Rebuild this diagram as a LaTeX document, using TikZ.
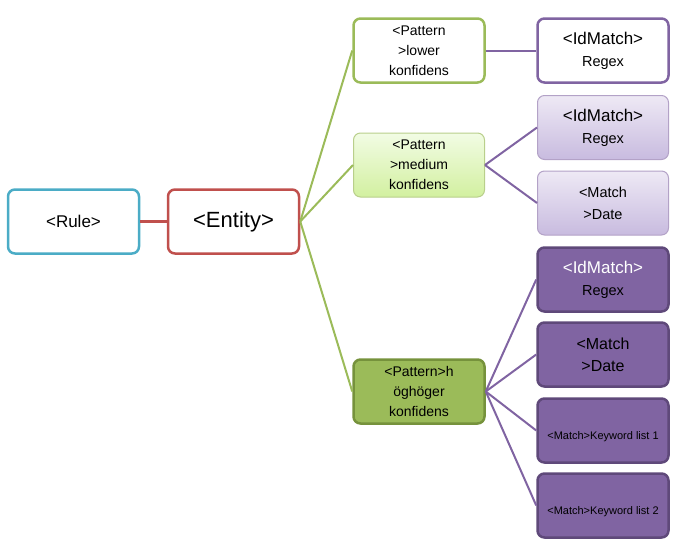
\documentclass[tikz,border=0pt]{standalone}
\usepackage{fontspec}
\setmainfont{Liberation Sans}
\definecolor{rulecol}{HTML}{4BACC6}
\definecolor{entcol}{HTML}{C0504D}
\definecolor{patcol}{HTML}{9BBB59}
\definecolor{patdark}{HTML}{76923C}
\definecolor{pattop}{HTML}{F2FCE4}
\definecolor{patbot}{HTML}{D2F0A0}
\definecolor{matchcol}{HTML}{8064A2}
\definecolor{matchdark}{HTML}{5F497A}
\definecolor{matchtop}{HTML}{EEE9F5}
\definecolor{matchbot}{HTML}{C8BBDF}
\tikzset{
  box/.style={rectangle, rounded corners=7pt, minimum width=131pt, minimum height=64pt,
    line width=2.5pt, align=center, inner sep=2pt},
  patline/.style={draw=patcol, line width=2pt},
  matchline/.style={draw=matchcol, line width=2pt},
  lightpat/.style={box, draw=patcol!70, line width=1pt, top color=pattop, bottom color=patbot},
  lightmatch/.style={box, draw=matchcol!60, line width=1pt, top color=matchtop, bottom color=matchbot},
  darkmatch/.style={box, draw=matchdark, fill=matchcol}
}
\begin{document}
\begin{tikzpicture}[x=1pt, y=-1pt]
  \useasboundingbox (0,0) rectangle (673,555);

  \node[box, draw=rulecol, fill=white, font=\fontsize{17}{20}\selectfont] (rule) at (73.5,221.5) {<Rule>};
  \node[box, draw=entcol, fill=white, font=\fontsize{22}{25}\selectfont] (entity) at (233.5,221.5) {<Entity>};

  \node[box, draw=patcol, fill=white, font=\fontsize{14}{20}\selectfont] (patlow) at (419,50.5) {<Pattern\\>lower\\konfidens};
  \node[lightpat, font=\fontsize{14}{20}\selectfont] (patmed) at (419,165) {<Pattern\\>medium\\konfidens};
  \node[box, draw=patdark, fill=patcol, font=\fontsize{14}{20}\selectfont] (pathigh) at (419,391.5) {<Pattern>h\\öghöger\\konfidens};

  \node[box, draw=matchcol, fill=white, font=\fontsize{14.5}{22}\selectfont] (idlow) at (603,50.5) {{\fontsize{17}{19}\selectfont <IdMatch>}\\Regex};
  \node[lightmatch, font=\fontsize{14.5}{22}\selectfont] (idmed) at (603,127.5) {{\fontsize{17}{19}\selectfont <IdMatch>}\\Regex};
  \node[lightmatch, font=\fontsize{14.5}{22}\selectfont] (datemed) at (603,203) {<Match\\>Date};
  \node[darkmatch, font=\fontsize{14.5}{22}\selectfont] (idhigh) at (603,279.5) {{\fontsize{17}{19}\selectfont\color{white} <IdMatch>}\\Regex};
  \node[darkmatch, font=\fontsize{16}{22}\selectfont] (datehigh) at (603,354.5) {<Match\\>Date};
  \node[darkmatch, font=\fontsize{11}{13}\selectfont] (kw1) at (603,430.5) {\mbox{}\\[8pt]<Match>Keyword list 1};
  \node[darkmatch, font=\fontsize{11}{13}\selectfont] (kw2) at (603,505.5) {\mbox{}\\[8pt]<Match>Keyword list 2};

  % rule and entity
  \draw[draw=entcol, line width=2.5pt] (rule) -- (entity);

  % entity to the patterns
  \draw[patline] (entity.east) -- (patlow.west);
  \draw[patline] (entity.east) -- (patmed.west);
  \draw[patline] (entity.east) -- (pathigh.west);

  % patterns to the matches
  \draw[matchline] (patlow.east) -- (idlow.west);
  \draw[matchline] (patmed.east) -- (idmed.west);
  \draw[matchline] (patmed.east) -- (datemed.west);
  \draw[matchline] (pathigh.east) -- (idhigh.west);
  \draw[matchline] (pathigh.east) -- (datehigh.west);
  \draw[matchline] (pathigh.east) -- (kw1.west);
  \draw[matchline] (pathigh.east) -- (kw2.west);
\end{tikzpicture}
\end{document}
